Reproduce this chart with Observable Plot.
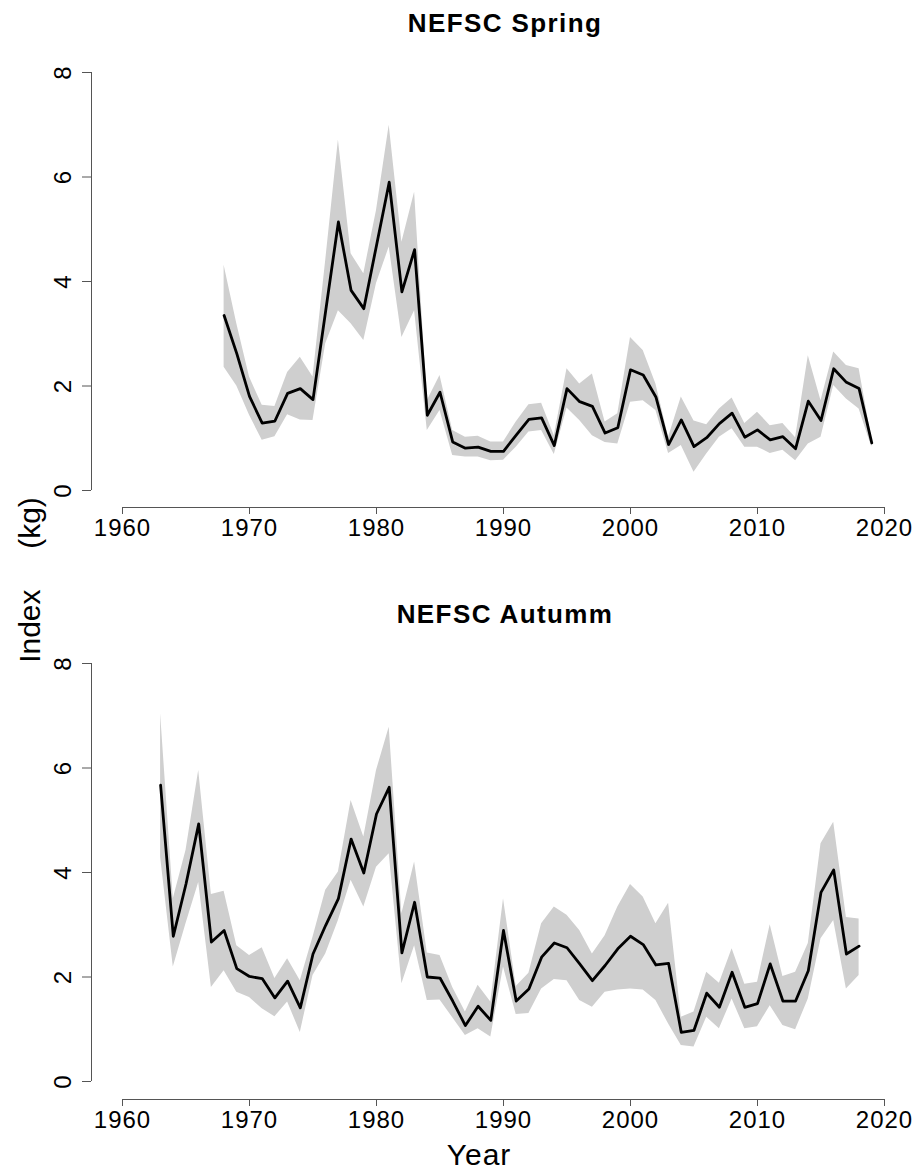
<!DOCTYPE html>
<html>
<head>
<meta charset="utf-8">
<script src="https://cdn.jsdelivr.net/npm/d3@7"></script>
<script src="https://cdn.jsdelivr.net/npm/@observablehq/plot@0.6"></script>
<style>
  html, body { margin: 0; padding: 0; background: #fff; }
  #root { position: relative; width: 921px; height: 1174px; background: #fff; overflow: hidden;
          font-family: "Liberation Sans", Arial, Helvetica, sans-serif; color: #000; }
  .panel { position: absolute; left: 0; }
  .title { position: absolute; left: 0; width: 1010px; text-align: center; font-weight: bold;
           font-size: 26px; line-height: 26px; letter-spacing: 1.4px; z-index: 2; }
  .ylab { position: absolute; left: 30px; top: 580px; font-size: 30px; line-height: 30px;
          white-space: pre; word-spacing: 12px; transform: translate(-50%, -50%) rotate(-90deg); z-index: 2; }
  .xlab { position: absolute; left: 0; width: 958px; top: 1140px; text-align: center;
          font-size: 30px; line-height: 30px; letter-spacing: 1px; z-index: 2; }
</style>
</head>
<body>
<div id="root">
  <div id="p1" class="panel" style="top:0px"></div>
  <div id="p2" class="panel" style="top:591px"></div>
  <div class="title" style="top:10px">NEFSC Spring</div>
  <div class="title" style="top:601px">NEFSC Autumm</div>
  <div class="ylab">Index  (kg)</div>
  <div class="xlab">Year</div>
</div>
<script>
// Tick labels
const xTicks = [1960, 1970, 1980, 1990, 2000, 2010, 2020];
const yTicks = [0, 2, 4, 6, 8];

// NEFSC Spring (1968-2019)
const springYears = [1968,1969,1970,1971,1972,1973,1974,1975,1976,1977,1978,1979,1980,1981,1982,1983,1984,1985,1986,1987,1988,1989,1990,1991,1992,1993,1994,1995,1996,1997,1998,1999,2000,2001,2002,2003,2004,2005,2006,2007,2008,2009,2010,2011,2012,2013,2014,2015,2016,2017,2018,2019];
const springIndex = [3.35,2.62,1.80,1.29,1.33,1.86,1.95,1.74,3.44,5.14,3.83,3.48,4.69,5.90,3.80,4.61,1.44,1.88,0.93,0.81,0.83,0.75,0.75,1.06,1.36,1.39,0.86,1.95,1.70,1.61,1.10,1.20,2.31,2.21,1.79,0.88,1.35,0.84,1.01,1.28,1.48,1.02,1.16,0.97,1.03,0.80,1.71,1.34,2.33,2.07,1.95,0.91];
const springLo = [2.36,2.00,1.44,0.96,1.03,1.45,1.35,1.34,2.81,3.44,3.19,2.87,3.96,4.66,2.93,3.44,1.15,1.53,0.67,0.64,0.64,0.57,0.58,0.83,1.12,1.15,0.69,1.58,1.34,1.05,0.92,0.89,1.69,1.72,1.53,0.71,0.86,0.35,0.70,1.02,1.18,0.83,0.83,0.71,0.77,0.57,0.89,1.02,2.01,1.75,1.56,0.83];
const springHi = [4.31,3.19,2.17,1.63,1.61,2.26,2.55,2.17,4.40,6.71,4.53,4.15,5.36,6.99,4.75,5.71,1.72,2.20,1.15,1.02,1.04,0.93,0.93,1.31,1.64,1.67,1.05,2.33,2.04,2.23,1.31,1.47,2.93,2.68,2.04,1.02,1.79,1.33,1.26,1.56,1.77,1.28,1.50,1.24,1.28,1.01,2.58,1.72,2.65,2.39,2.33,0.99];

// NEFSC Autumn (1963-2018)
const autumnYears = [1963,1964,1965,1966,1967,1968,1969,1970,1971,1972,1973,1974,1975,1976,1977,1978,1979,1980,1981,1982,1983,1984,1985,1986,1987,1988,1989,1990,1991,1992,1993,1994,1995,1996,1997,1998,1999,2000,2001,2002,2003,2004,2005,2006,2007,2008,2009,2010,2011,2012,2013,2014,2015,2016,2017,2018];
const autumnIndex = [5.67,2.78,3.78,4.93,2.67,2.89,2.16,2.01,1.97,1.60,1.92,1.41,2.44,2.99,3.50,4.64,3.99,5.12,5.63,2.46,3.43,2.00,1.98,1.54,1.07,1.44,1.17,2.89,1.54,1.77,2.38,2.65,2.56,2.25,1.93,2.22,2.54,2.78,2.62,2.23,2.26,0.94,0.98,1.69,1.42,2.09,1.42,1.49,2.25,1.54,1.54,2.12,3.62,4.05,2.44,2.59];
const autumnLo = [4.29,2.19,3.02,3.81,1.80,2.12,1.71,1.61,1.39,1.24,1.52,0.94,2.03,2.44,3.08,3.85,3.34,4.10,4.36,1.87,2.60,1.55,1.56,1.22,0.88,1.01,0.85,2.19,1.28,1.30,1.77,1.95,1.93,1.55,1.42,1.71,1.75,1.77,1.75,1.55,1.10,0.69,0.66,1.23,1.01,1.58,1.01,1.05,1.45,1.07,0.99,1.58,2.73,3.08,1.77,2.03];
const autumnHi = [7.04,3.50,4.42,5.95,3.58,3.64,2.60,2.41,2.56,1.97,2.35,1.93,2.76,3.66,4.01,5.38,4.68,5.95,6.78,3.21,4.20,2.46,2.41,1.80,1.33,1.84,1.52,3.50,1.82,2.07,3.02,3.34,3.18,2.89,2.44,2.79,3.34,3.77,3.53,3.02,3.41,1.23,1.33,2.09,1.88,2.54,1.86,1.90,3.00,2.01,2.09,2.64,4.55,4.96,3.14,3.11];

function panel(years, idx, lo, hi, axisGap) {
  const rows = years.map((y, i) => ({year: y, v: idx[i], lo: lo[i], hi: hi[i]}));
  const axisColor = "#555";
  return Plot.plot({
    width: 921,
    height: 560,
    marginTop: 72,
    marginBottom: 70,
    marginLeft: 122,
    marginRight: 37,
    x: {domain: [xTicks[0], xTicks[xTicks.length - 1]]},
    y: {domain: [yTicks[0], yTicks[yTicks.length - 1]]},
    style: "font-family: 'Liberation Sans', Arial, Helvetica, sans-serif; font-size: 24px; letter-spacing: 1px; color: #000; background: transparent; overflow: visible;",
    marks: [
      Plot.areaY(rows, {x: "year", y1: "lo", y2: "hi", fill: "#cfcfcf"}),
      Plot.lineY(rows, {x: "year", y: "v", stroke: "#000", strokeWidth: 2.8, strokeLinejoin: "round"}),
      Plot.ruleY([yTicks[0]], {x1: xTicks[0], x2: xTicks[xTicks.length - 1], dy: axisGap, stroke: axisColor}),
      Plot.ruleX([xTicks[0]], {y1: yTicks[0], y2: yTicks[yTicks.length - 1], dx: -31, stroke: axisColor}),
      Plot.axisX(xTicks, {anchor: "bottom", tickSize: 7, tickPadding: 4, dy: axisGap, tickFormat: d => String(d), label: null, stroke: axisColor, fill: "#000"}),
      Plot.axisY(yTicks, {anchor: "left", tickSize: 9, tickPadding: 12, dx: -31, tickRotate: -90, tickFormat: d => String(d), label: null, stroke: axisColor, fill: "#000"})
    ]
  });
}

document.getElementById("p1").appendChild(panel(springYears, springIndex, springLo, springHi, 17));
document.getElementById("p2").appendChild(panel(autumnYears, autumnIndex, autumnLo, autumnHi, 18));
</script>
</body>
</html>
